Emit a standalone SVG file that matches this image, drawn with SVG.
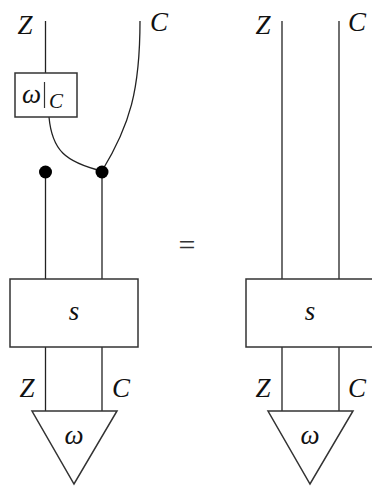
<svg xmlns="http://www.w3.org/2000/svg" width="372" height="487" viewBox="0 0 372 487">
<style>
.w{fill:none;stroke:#222;stroke-width:1.3}
.b{fill:#fff;stroke:#333;stroke-width:1.5}
</style>
<rect width="372" height="487" fill="#fff"/>
<g id="connectors">
<line class="w" x1="45.5" y1="21" x2="45.5" y2="73"/>
<path class="w" d="M49,117 C52,150 65,162 102,171"/>
<path class="w" d="M140,21 C140,90 130,125 102,171"/>
<line class="w" x1="45.5" y1="172" x2="45.5" y2="279"/>
<line class="w" x1="102" y1="172" x2="102" y2="279"/>
<line class="w" x1="45.5" y1="347" x2="45.5" y2="411"/>
<line class="w" x1="102" y1="347" x2="102" y2="411"/>
<line class="w" x1="282" y1="21" x2="282" y2="279"/>
<line class="w" x1="339" y1="21" x2="339" y2="279"/>
<line class="w" x1="282" y1="347" x2="282" y2="411"/>
<line class="w" x1="339" y1="347" x2="339" y2="411"/>
</g>
<g font-family="Liberation Serif, DejaVu Serif, serif" font-style="italic" font-size="27" fill="#111">
<g id="omegaC">
<rect class="b" x="15" y="73" width="62" height="44"/>
<text x="22" y="103">ω</text>
<line x1="44.5" y1="82" x2="44.5" y2="108" stroke="#333" stroke-width="1.2"/>
<text x="49" y="108" font-size="21">C</text>
</g>
<g id="dot1"><circle cx="45.5" cy="172" r="6.5" fill="#000"/></g>
<g id="dot2"><circle cx="102" cy="172" r="6.5" fill="#000"/></g>
<g id="s1">
<rect class="b" x="10" y="279" width="128" height="68"/>
<text x="74" y="320" text-anchor="middle">s</text>
</g>
<g id="tri1">
<polygon class="b" points="32,411 117,411 74,484"/>
<text x="74" y="444" text-anchor="middle">ω</text>
</g>
<g id="s2">
<rect class="b" x="246" y="279" width="128" height="68"/>
<text x="310" y="320" text-anchor="middle">s</text>
</g>
<g id="tri2">
<polygon class="b" points="268,411 353,411 310,484"/>
<text x="310" y="444" text-anchor="middle">ω</text>
</g>
<g id="labels">
<text x="25" y="34" text-anchor="middle">Z</text>
<text x="159" y="31" text-anchor="middle">C</text>
<text x="27" y="397" text-anchor="middle">Z</text>
<text x="121" y="397" text-anchor="middle">C</text>
<text x="263" y="34" text-anchor="middle">Z</text>
<text x="357" y="31" text-anchor="middle">C</text>
<text x="263" y="397" text-anchor="middle">Z</text>
<text x="357" y="397" text-anchor="middle">C</text>
<text x="187" y="255" text-anchor="middle" font-style="normal" font-size="30" fill="#333">=</text>
</g>
</g>
</svg>
